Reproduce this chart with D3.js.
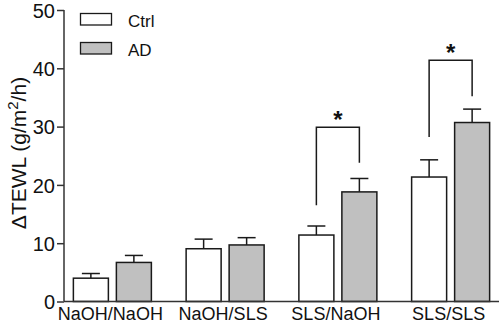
<!DOCTYPE html>
<html><head><meta charset="utf-8">
<script src="https://cdn.jsdelivr.net/npm/d3@7"></script>
<style>body{margin:0;background:#fff}svg{display:block}text{font-family:"Liberation Sans",Arial,sans-serif;fill:#111}</style>
</head><body><svg id="c" width="500" height="323"></svg>
<script>
const categories = ["NaOH/NaOH","NaOH/SLS","SLS/NaOH","SLS/SLS"];
const series = ["Ctrl","AD"];
const ctrlMean = [4.0, 9.05, 11.4, 21.35];
const ctrlErr  = [0.8, 1.65, 1.55, 2.95];
const adMean   = [6.7, 9.7, 18.8, 30.7];
const adErr    = [1.2, 1.25, 2.3, 2.3];
const yTicks = [0,10,20,30,40,50];
// significance brackets: category, top, left-end, right-end (data units)
const sigCats = ["SLS/NaOH","SLS/SLS"];
const sigTop = [29.9, 41.4];
const sigLeft = [16.5, 28.2];
const sigRight = [23.8, 35.2];

const svg = d3.select("#c");
const y = d3.scaleLinear().domain([0,50]).range([301.5,10]);
const x0 = d3.scaleBand().domain(categories).range([56,507]).padding(0);
const x1 = d3.scaleBand().domain(series).range([0,78]).paddingInner(8/43).paddingOuter(0);
const off = (x0.bandwidth()-78)/2;
const fills = {Ctrl:"#ffffff", AD:"#c0c0c0"};
const stroke = "#1a1a1a";
const FONT = '"Liberation Sans",Arial,sans-serif';

const data = [];
categories.forEach((c,i)=>{
  data.push({c, s:"Ctrl", v:ctrlMean[i], e:ctrlErr[i]});
  data.push({c, s:"AD", v:adMean[i], e:adErr[i]});
});
const bx = d => x0(d.c)+off+x1(d.s);
const cx = d => bx(d)+x1.bandwidth()/2;

// error bars (behind bars)
const eb = svg.append("g").attr("stroke",stroke).attr("stroke-width",1.5);
data.forEach(d=>{
  eb.append("line").attr("x1",cx(d)).attr("x2",cx(d)).attr("y1",y(d.v)).attr("y2",y(d.v+d.e));
  eb.append("line").attr("x1",cx(d)-9).attr("x2",cx(d)+9).attr("y1",y(d.v+d.e)).attr("y2",y(d.v+d.e));
});

svg.append("g").selectAll("rect").data(data).join("rect")
  .attr("x",d=>bx(d)).attr("width",x1.bandwidth())
  .attr("y",d=>y(d.v)).attr("height",d=>y(0)-y(d.v))
  .attr("fill",d=>fills[d.s]).attr("stroke",stroke).attr("stroke-width",1.5);

// brackets
const br = svg.append("g");
sigCats.forEach((c,i)=>{
  const xl = x0(c)+off+x1("Ctrl")+x1.bandwidth()/2;
  const xr = x0(c)+off+x1("AD")+x1.bandwidth()/2;
  br.append("path").attr("fill","none").attr("stroke",stroke).attr("stroke-width",1.5)
    .attr("d",`M${xl},${y(sigLeft[i])}V${y(sigTop[i])}H${xr}V${y(sigRight[i])}`);
  br.append("text").attr("x",(xl+xr)/2).attr("y",y(sigTop[i])+1).attr("text-anchor","middle")
    .attr("font-size",24).attr("font-weight","bold").text("*");
});

// y axis
const ya = svg.append("g").attr("transform","translate(64,0)")
  .call(d3.axisLeft(y).tickValues(yTicks).tickSize(7).tickPadding(2).tickFormat(d3.format("d")));
ya.select(".domain").attr("stroke","#333").attr("stroke-width",1.5).attr("d","M0,10V301.5");
ya.selectAll(".tick line").attr("stroke","#333").attr("stroke-width",1.5);
ya.selectAll(".tick text").attr("font-size",20).attr("fill","#111").attr("font-family",FONT).attr("dy","0.36em");

// x axis
const xa = svg.append("g").attr("transform","translate(0,301.5)")
  .call(d3.axisBottom(x0).tickSize(0).tickPadding(2));
xa.select(".domain").attr("stroke","#333").attr("stroke-width",1.5).attr("d","M64,0H499");
xa.selectAll(".tick text").attr("font-size",18).attr("fill","#111").attr("font-family",FONT).attr("dy","0.9em").attr("dx",-2);

// y label
const yl = svg.append("text").attr("transform","translate(26,153) rotate(-90)").attr("text-anchor","middle").attr("font-size",21);
yl.append("tspan").text("\u0394TEWL (g/m");
yl.append("tspan").attr("font-size",15).attr("dy",-8).text("2");
yl.append("tspan").attr("dy",8).text("/h)");

// legend
const lg = svg.append("g");
series.forEach((s,i)=>{
  lg.append("rect").attr("x",80.5).attr("y",13.5+i*29).attr("width",31).attr("height",11.5)
    .attr("fill",fills[s]).attr("stroke",stroke).attr("stroke-width",1.3);
  lg.append("text").attr("x",128).attr("y",26.5+i*29).attr("font-size",17).text(s);
});
</script></body></html>
